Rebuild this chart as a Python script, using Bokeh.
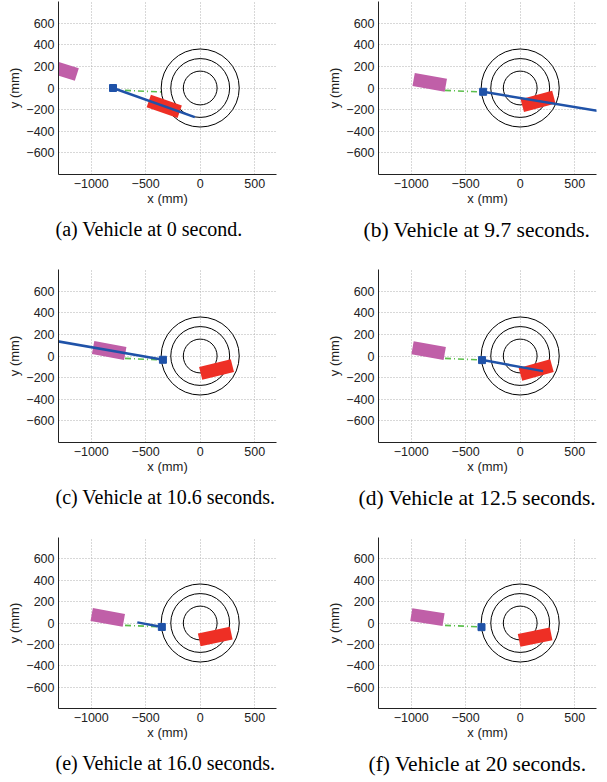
from bokeh.plotting import figure
from bokeh.models import Range1d, Title, FixedTicker
from bokeh.layouts import column, row
from bokeh.embed import file_html
from bokeh.resources import INLINE

# ---------------- data ----------------
captions = [
    "(a) Vehicle at 0 second.",
    "(b) Vehicle at 9.7 seconds.",
    "(c) Vehicle at 10.6 seconds.",
    "(d) Vehicle at 12.5 seconds.",
    "(e) Vehicle at 16.0 seconds.",
    "(f) Vehicle at 20 seconds.",
]

# target (magenta box) pose per snapshot: centre (mm) and heading (deg)
target_x = [-1275, -830, -835, -840, -848, -851]
target_y = [170, 52, 51, 50, 52, 55]
target_angle = [-17.5, -10, -10.5, -10, -10.3, -9]

# vehicle (red box) pose per snapshot
vehicle_x = [-330, 164, 150, 147, 138, 137]
vehicle_y = [-170, -123, -125, -129, -126, -132]
vehicle_angle = [-19, 15, 14, 15.5, 12, 11.5]

box_length = 300
box_width = 122

# blue segment per snapshot (start / end)
blue_x0 = [-800, -340, -340, -345, -577, -350]
blue_y0 = [0, -35, -35, -37, 6, -37]
blue_x1 = [-50, 760, -1400, 210, -350, -350]
blue_y1 = [-270, -220, 152, -140, -37, -37]

# blue square marker per snapshot
square_x = [-800, -340, -342, -350, -352, -355]
square_y = [0, -35, -35, -38, -37, -39]

# green dash-dot path (same in every snapshot)
green_x = [-690, -345]
green_y = [-22, -37]

ring_radii = [155, 270, 358]

x_ticks = [-1000, -500, 0, 500]
x_tick_labels = ["\u22121000", "\u2212500", "0", "500"]
y_ticks = [-600, -400, -200, 0, 200, 400, 600]
y_tick_labels = ["\u2212600", "\u2212400", "\u2212200", "0", "200", "400", "600"]

# ---------------- style / layout ----------------
RED = "#ee2f25"
MAGENTA = "#c05fa8"
BLUE = "#1f52a8"
GREEN = "#5cbf4c"
SANS = "Liberation Sans"
SERIF = "Liberation Serif"

col_borders = [(58, 45), (57, 11)]       # (left, right) per column
col_caption_size = ["20px", "21.5px"]
row_bottom = [94, 94, 72]                 # bottom border per row
frame_w, frame_h = 218, 173
caption_offset = [-3, -15, -3, -20, -3, -10]


def make_panel(i):
    c, r = i % 2, i // 2
    bl, br = col_borders[c]
    bb = row_bottom[r]
    p = figure(
        width=bl + frame_w + br, height=1 + frame_h + bb,
        x_range=Range1d(-1300, 700), y_range=Range1d(-800, 800),
        output_backend="svg", toolbar_location=None, title=None,
        min_border_left=bl, min_border_right=br,
        min_border_top=1, min_border_bottom=bb,
    )
    p.outline_line_color = None
    p.background_fill_color = "white"
    p.border_fill_color = "white"

    for ax, ticks, labels in ((p.xaxis[0], x_ticks, x_tick_labels),
                              (p.yaxis[0], y_ticks, y_tick_labels)):
        ax.ticker = FixedTicker(ticks=ticks)
        ax.major_label_overrides = {t: l for t, l in zip(ticks, labels)}
        ax.major_tick_in = 0
        ax.major_tick_out = 0
        ax.minor_tick_in = 0
        ax.minor_tick_out = 0
        ax.axis_line_color = "#222222"
        ax.axis_line_width = 1
        ax.major_label_text_font = SANS
        ax.major_label_text_font_size = "12.5px"
        ax.major_label_text_color = "#222222"
        ax.axis_label_text_font = SANS
        ax.axis_label_text_font_size = "13px"
        ax.axis_label_text_font_style = "normal"
        ax.axis_label_text_color = "#222222"
        ax.major_label_standoff = 4
    p.xaxis.axis_label = "x (mm)"
    p.yaxis.axis_label = "y (mm)"
    p.xaxis.axis_label_standoff = 0
    p.yaxis.axis_label_standoff = 1
    p.yaxis.major_label_standoff = 4

    for g, ticks in ((p.xgrid, x_ticks), (p.ygrid, y_ticks)):
        g.ticker = FixedTicker(ticks=ticks)
        g.grid_line_color = "#b0b0b0"
        g.grid_line_dash = "1 2"
        g.grid_line_width = 1

    # rings
    p.circle(x=[0] * len(ring_radii), y=[0] * len(ring_radii), radius=ring_radii,
             fill_color=None, line_color="black", line_width=1)
    # target box
    p.rect(x=[target_x[i]], y=[target_y[i]], width=box_length, height=box_width,
           angle=target_angle[i], angle_units="deg",
           fill_color=MAGENTA, line_color=None)
    # vehicle box
    p.rect(x=[vehicle_x[i]], y=[vehicle_y[i]], width=box_length, height=box_width,
           angle=vehicle_angle[i], angle_units="deg",
           fill_color=RED, line_color=None)
    # green reference path
    p.line(x=green_x, y=green_y, line_color=GREEN, line_width=1.6,
           line_dash="6 3 1 3")
    # blue segment
    if (blue_x0[i], blue_y0[i]) != (blue_x1[i], blue_y1[i]):
        p.line(x=[blue_x0[i], blue_x1[i]], y=[blue_y0[i], blue_y1[i]],
               line_color=BLUE, line_width=2.5)
    p.scatter(x=[square_x[i]], y=[square_y[i]], marker="square", size=7,
              fill_color=BLUE, line_color=BLUE)

    cap = Title(text=captions[i], align="left", offset=caption_offset[i],
                text_font=SERIF, text_font_size=col_caption_size[c],
                text_font_style="normal", text_color="black", standoff=14)
    p.add_layout(cap, "below")
    return p


panels = [make_panel(i) for i in range(6)]
layout = column(row(panels[0], panels[1]),
                row(panels[2], panels[3]),
                row(panels[4], panels[5]))

open("out.html", "w").write(file_html(layout, INLINE))
